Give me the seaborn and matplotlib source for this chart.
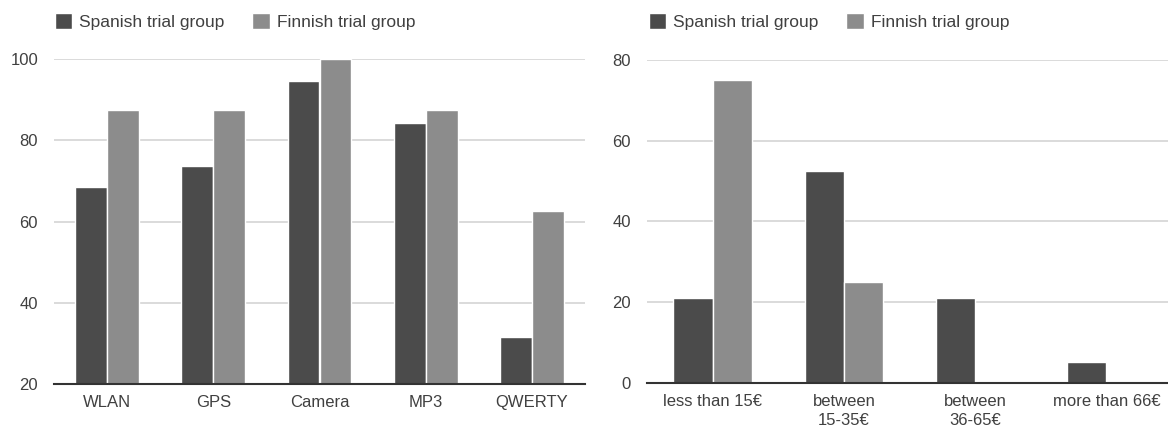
import numpy as np
import pandas as pd
import matplotlib
matplotlib.use("Agg")
import matplotlib.pyplot as plt
import seaborn as sns

# Feature ownership (%) per trial group
features = ["WLAN", "GPS", "Camera", "MP3", "QWERTY"]
features_spanish = [68.4, 73.7, 94.7, 84.2, 31.6]
features_finnish = [87.5, 87.5, 100.0, 87.5, 62.5]

# Monthly spending (%) per trial group
spending = ["less than 15€", "between\n15-35€", "between\n36-65€", "more than 66€"]
spending_spanish = [21.05, 52.6, 21.05, 5.26]
spending_finnish = [75.0, 25.0, 0.0, 0.0]

groups = ["Spanish trial group", "Finnish trial group"]
palette = {groups[0]: "#4b4b4b", groups[1]: "#8c8c8c"}

sns.set_theme(style="white")
plt.rcParams["font.family"] = ["Liberation Sans", "DejaVu Sans"]

TEXT = "#404040"


def long_frame(cats, a, b):
    return pd.DataFrame({
        "category": list(cats) * 2,
        "value": list(a) + list(b),
        "group": [groups[0]] * len(cats) + [groups[1]] * len(cats),
    })


W, H = 1168, 432
fig = plt.figure(figsize=(W / 100, H / 100), dpi=100)
ax1 = fig.add_axes([54 / W, 48 / H, 531 / W, 325 / H])
ax2 = fig.add_axes([647 / W, 49 / H, 525 / W, 323 / H])

panels = [
    (ax1, long_frame(features, features_spanish, features_finnish), (20, 100),
     [20, 40, 60, 80, 100], features, 55),
    (ax2, long_frame(spending, spending_spanish, spending_finnish), (0, 80),
     [0, 20, 40, 60, 80], spending, 649),
]

for ax, df, ylim, yticks, order, legend_x in panels:
    sns.barplot(data=df, x="category", y="value", hue="group", order=order,
                hue_order=groups, palette=palette, width=0.6, ax=ax,
                edgecolor="white", linewidth=1.0, saturation=1, errorbar=None)
    ax.set_ylim(*ylim)
    ax.set_yticks(yticks)
    ax.set_xlabel("")
    ax.set_ylabel("")
    ax.yaxis.grid(True, color="#d4d4d4", linewidth=1.2)
    ax.set_axisbelow(True)
    for side in ["top", "right", "left"]:
        ax.spines[side].set_visible(False)
    ax.spines["bottom"].set_color("#333333")
    ax.spines["bottom"].set_linewidth(1.5)
    ax.tick_params(axis="both", length=0, labelsize=12, colors=TEXT)
    ax.tick_params(axis="x", pad=8)
    ax.tick_params(axis="y", pad=11.5)
    handles, labels = ax.get_legend_handles_labels()
    ax.get_legend().remove()
    ax.legend(handles, labels, loc="center left",
              bbox_to_anchor=(legend_x / W, 1 - 21.5 / H),
              bbox_transform=fig.transFigure,
              ncol=2, frameon=False, fontsize=12.5, handlelength=1.0,
              handleheight=1.0, handletextpad=0.4, columnspacing=1.6,
              labelcolor=TEXT, borderaxespad=0, borderpad=0)

for lbl in ax2.get_xticklabels():
    lbl.set_linespacing(1.35)
    lbl.set_verticalalignment("top")

fig.savefig("out.png", dpi=100, facecolor="white")
